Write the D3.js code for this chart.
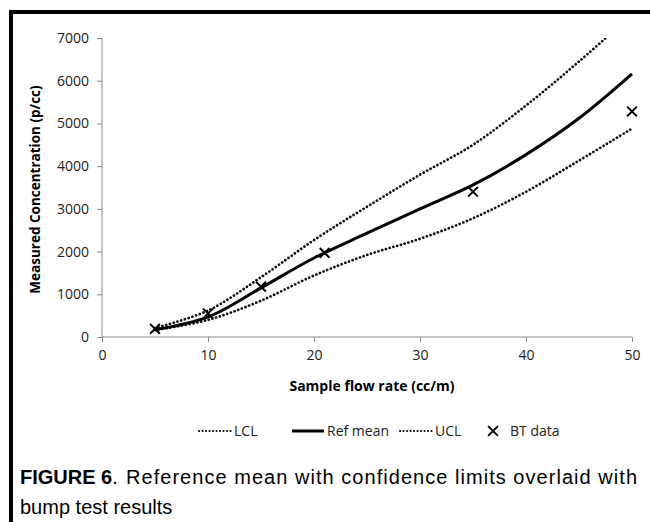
<!DOCTYPE html>
<html>
<head>
<meta charset="utf-8">
<script src="https://cdn.jsdelivr.net/npm/d3@7"></script>
<style>
  body { margin: 0; background: #fff; }
  .tick text { font-family: "Open Sans", sans-serif; font-size: 14px; fill: #222; }
  .axis path, .axis line { stroke: #8a8a8a; }
</style>
</head>
<body>
<div id="chart"></div>
<script>
// values
const flowRates = [5, 10, 15, 20, 25, 30, 35, 40, 45, 50];
const refMean   = [170, 470, 1150, 1850, 2430, 3000, 3560, 4270, 5120, 6160];
const lcl       = [160, 400, 850, 1440, 1920, 2300, 2780, 3400, 4130, 4880];
const ucl       = [210, 620, 1400, 2270, 3050, 3800, 4500, 5420, 6450, 7550];
const btFlow    = [5, 10, 15, 21, 35, 50];
const btConc    = [190, 550, 1180, 1970, 3400, 5280];
const xTicks = [0, 10, 20, 30, 40, 50];
const yTicks = [0, 1000, 2000, 3000, 4000, 5000, 6000, 7000];

const W = 650, H = 522;
let margin = {top: 38, right: 18, bottom: 185, left: 102},
    width = W - margin.left - margin.right,
    height = H - margin.top - margin.bottom;

let svg = d3.select("#chart").append("svg")
    .attr("width", W)
    .attr("height", H);

// frame of the figure
svg.append("path")
    .attr("d", "M11,522 V12 H650")
    .attr("fill", "none")
    .attr("stroke", "#000")
    .attr("stroke-width", 4);

let x = d3.scaleLinear().domain([0, 50]).range([0, width]);
let y = d3.scaleLinear().domain([0, 7000]).range([height, 0]);

let g = svg.append("g").attr("transform", `translate(${margin.left},${margin.top})`);

svg.append("defs").append("clipPath").attr("id", "plot")
    .append("rect").attr("x", -2).attr("y", 0).attr("width", width + 4).attr("height", height);

let yAxis = g.append("g").attr("class", "axis")
    .call(d3.axisLeft(y).tickValues(yTicks).tickSize(5).tickPadding(8).tickFormat(d3.format("d")));
let xAxis = g.append("g").attr("class", "axis")
    .attr("transform", `translate(0,${height})`)
    .call(d3.axisBottom(x).tickValues(xTicks).tickSize(5).tickPadding(8));
[yAxis, xAxis].forEach(a => a.select(".domain").attr("d", a === yAxis ? `M0,${height}V0` : `M0,0H${width}`));

g.append("text")
    .attr("transform", `translate(-62,${height / 2 + 2}) rotate(-90)`)
    .attr("text-anchor", "middle")
    .style("font-family", "Open Sans, sans-serif")
    .style("font-size", "13.5px").style("font-weight", "bold")
    .text("Measured Concentration (p/cc)");

g.append("text")
    .attr("x", x(25) + 5).attr("y", height + 54)
    .attr("text-anchor", "middle")
    .style("font-family", "Open Sans, sans-serif")
    .style("font-size", "14px").style("font-weight", "bold")
    .text("Sample flow rate (cc/m)");

let line = d3.line()
    .x((d, i) => x(flowRates[i]))
    .y(d => y(d))
    .curve(d3.curveCatmullRom);

let lines = g.append("g").attr("clip-path", "url(#plot)");
const dots = {dash: "0.1,3.8", width: 2.7, cap: "round"};

lines.append("path").datum(lcl).attr("d", line)
    .attr("fill", "none").attr("stroke", "#111")
    .attr("stroke-width", dots.width).attr("stroke-dasharray", dots.dash).attr("stroke-linecap", dots.cap);
lines.append("path").datum(ucl).attr("d", line)
    .attr("fill", "none").attr("stroke", "#111")
    .attr("stroke-width", dots.width).attr("stroke-dasharray", dots.dash).attr("stroke-linecap", dots.cap);
lines.append("path").datum(refMean).attr("d", line)
    .attr("fill", "none").attr("stroke", "#000").attr("stroke-width", 3);

let cross = d3.symbol().type(d3.symbolX).size(64);
g.selectAll(".bt").data(btFlow).enter().append("path")
    .attr("class", "bt")
    .attr("transform", (d, i) => `translate(${x(d)},${y(btConc[i])})`)
    .attr("d", cross)
    .attr("fill", "none").attr("stroke", "#000").attr("stroke-width", 2);

// legend
let legend = svg.append("g").attr("transform", "translate(0,431)");
const legendItems = [
    {label: "LCL", kind: "dot", x0: 199},
    {label: "Ref mean", kind: "solid", x0: 292},
    {label: "UCL", kind: "dot", x0: 400},
    {label: "BT data", kind: "cross", x0: 486}
];
legendItems.forEach(it => {
    let lg = legend.append("g");
    if (it.kind === "cross") {
        lg.append("path").attr("transform", `translate(${it.x0 + 7},0)`)
            .attr("d", cross).attr("fill", "none").attr("stroke", "#000").attr("stroke-width", 2);
        lg.append("text").attr("x", it.x0 + 24).attr("y", 5).text(it.label);
    } else {
        lg.append("line").attr("x1", it.x0).attr("x2", it.x0 + 32).attr("y1", 0).attr("y2", 0)
            .attr("stroke", "#000")
            .attr("stroke-width", it.kind === "solid" ? 3 : 2)
            .attr("stroke-dasharray", it.kind === "solid" ? null : "0.1,3.4")
            .attr("stroke-linecap", it.kind === "solid" ? "butt" : "round");
        lg.append("text").attr("x", it.x0 + 35).attr("y", 5).text(it.label);
    }
});
legend.selectAll("text")
    .style("font-family", "Open Sans, sans-serif").style("font-size", "14px").attr("fill", "#222");

// caption, first line set full width like the printed page
let cap = svg.append("g")
    .style("font-family", "Liberation Sans, Arial, sans-serif").style("font-size", "20px");
let t1 = cap.append("text").attr("x", 20).attr("y", 484);
t1.append("tspan").style("font-weight", "bold").text("FIGURE 6");
t1.append("tspan").text(".");
cap.append("text").attr("x", 126).attr("y", 484)
    .attr("textLength", 511).attr("lengthAdjust", "spacing")
    .text("Reference mean with confidence limits overlaid with");
cap.append("text").attr("x", 20).attr("y", 514).text("bump test results");
</script>
</body>
</html>
